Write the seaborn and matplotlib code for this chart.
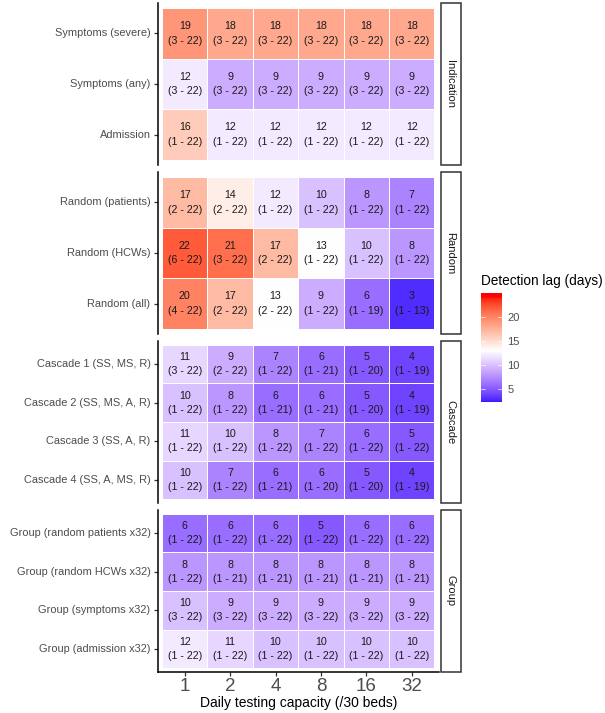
import numpy as np
import pandas as pd
import seaborn as sns
import matplotlib.pyplot as plt
import matplotlib.colors as mcolors
from matplotlib.patches import Rectangle

sns.set_style("white")
plt.rcParams["font.family"] = ["Liberation Sans", "DejaVu Sans"]

capacity = ["1", "2", "4", "8", "16", "32"]

facets = ["Indication", "Random", "Cascade", "Group"]

strategies = {
    "Indication": ["Symptoms (severe)", "Symptoms (any)", "Admission"],
    "Random": ["Random (patients)", "Random (HCWs)", "Random (all)"],
    "Cascade": ["Cascade 1 (SS, MS, R)", "Cascade 2 (SS, MS, A, R)",
                "Cascade 3 (SS, A, R)", "Cascade 4 (SS, A, MS, R)"],
    "Group": ["Group (random patients x32)", "Group (random HCWs x32)",
              "Group (symptoms x32)", "Group (admission x32)"],
}

lag_median = {
    "Indication": [[19, 18, 18, 18, 18, 18],
                   [12, 9, 9, 9, 9, 9],
                   [16, 12, 12, 12, 12, 12]],
    "Random": [[17, 14, 12, 10, 8, 7],
               [22, 21, 17, 13, 10, 8],
               [20, 17, 13, 9, 6, 3]],
    "Cascade": [[11, 9, 7, 6, 5, 4],
                [10, 8, 6, 6, 5, 4],
                [11, 10, 8, 7, 6, 5],
                [10, 7, 6, 6, 5, 4]],
    "Group": [[6, 6, 6, 5, 6, 6],
              [8, 8, 8, 8, 8, 8],
              [10, 9, 9, 9, 9, 9],
              [12, 11, 10, 10, 10, 10]],
}

lag_low = {
    "Indication": [[3, 3, 3, 3, 3, 3],
                   [3, 3, 3, 3, 3, 3],
                   [1, 1, 1, 1, 1, 1]],
    "Random": [[2, 2, 1, 1, 1, 1],
               [6, 3, 2, 1, 1, 1],
               [4, 2, 2, 1, 1, 1]],
    "Cascade": [[3, 2, 1, 1, 1, 1],
                [1, 1, 1, 1, 1, 1],
                [1, 1, 1, 1, 1, 1],
                [1, 1, 1, 1, 1, 1]],
    "Group": [[1, 1, 1, 1, 1, 1],
              [1, 1, 1, 1, 1, 1],
              [3, 3, 3, 3, 3, 3],
              [1, 1, 1, 1, 1, 1]],
}

lag_high = {
    "Indication": [[22, 22, 22, 22, 22, 22],
                   [22, 22, 22, 22, 22, 22],
                   [22, 22, 22, 22, 22, 22]],
    "Random": [[22, 22, 22, 22, 22, 22],
               [22, 22, 22, 22, 22, 22],
               [22, 22, 22, 22, 19, 13]],
    "Cascade": [[22, 22, 22, 21, 20, 19],
                [22, 22, 21, 21, 20, 19],
                [22, 22, 22, 22, 22, 22],
                [22, 22, 21, 20, 20, 19]],
    "Group": [[22, 22, 22, 22, 22, 22],
              [22, 21, 21, 21, 21, 21],
              [22, 22, 22, 22, 22, 22],
              [22, 22, 22, 22, 22, 22]],
}

legend_ticks = [5, 10, 15, 20]
legend_range = (2.4, 24.9)
midpoint = 13


# gradient2 style colours: blue - white - red, interpolated in Lab space
WHITE_PT = np.array([0.95047, 1.0, 1.08883])
M = np.array([[0.4124, 0.3576, 0.1805],
              [0.2126, 0.7152, 0.0722],
              [0.0193, 0.1192, 0.9505]])


def to_lab(c):
    rgb = np.array(mcolors.to_rgb(c))
    lin = np.where(rgb <= 0.04045, rgb / 12.92, ((rgb + 0.055) / 1.055) ** 2.4)
    xyz = M @ lin / WHITE_PT
    f = np.where(xyz > 0.008856, np.cbrt(xyz), 7.787 * xyz + 16 / 116)
    return np.array([116 * f[1] - 16, 500 * (f[0] - f[1]), 200 * (f[1] - f[2])])


def from_lab(lab):
    fy = (lab[0] + 16) / 116
    f = np.array([fy + lab[1] / 500, fy, fy - lab[2] / 200])
    xyz = np.where(f ** 3 > 0.008856, f ** 3, (f - 16 / 116) / 7.787) * WHITE_PT
    lin = np.linalg.solve(M, xyz)
    lin = np.clip(lin, 0, 1)
    rgb = np.where(lin <= 0.0031308, 12.92 * lin, 1.055 * lin ** (1 / 2.4) - 0.055)
    return np.clip(rgb, 0, 1)


lab_blue, lab_white, lab_red = to_lab("blue"), to_lab("white"), to_lab("red")
cols = []
for t in np.linspace(0, 1, 256):
    if t < 0.5:
        s = t / 0.5
        cols.append(from_lab(lab_blue + (lab_white - lab_blue) * s))
    else:
        s = (t - 0.5) / 0.5
        cols.append(from_lab(lab_white + (lab_red - lab_white) * s))
cmap = mcolors.ListedColormap(cols)
half = 11.2
norm = mcolors.Normalize(vmin=midpoint - half, vmax=midpoint + half)

W, H = 605, 713
fig = plt.figure(figsize=(W / 100, H / 100), dpi=100)


def box(x0, y0, x1, y1):
    return [x0 / W, 1 - y1 / H, (x1 - x0) / W, (y1 - y0) / H]


panel_tops = [3, 172, 341, 510]
panel_h = 162
px0, px1 = 157.5, 439
grey = "#4D4D4D"

for k, facet in enumerate(facets):
    y0 = panel_tops[k]
    ax = fig.add_axes(box(px0, y0, px1, y0 + panel_h))
    med = np.array(lag_median[facet])
    lo = np.array(lag_low[facet])
    hi = np.array(lag_high[facet])
    df = pd.DataFrame(med, index=strategies[facet], columns=capacity)
    labels = np.array([[f"{m}\n({a} - {b})" for m, a, b in zip(r1, r2, r3)]
                       for r1, r2, r3 in zip(med, lo, hi)])
    sns.heatmap(df, ax=ax, cmap=cmap, norm=norm, cbar=False,
                annot=labels, fmt="", linewidths=0.6, linecolor="white",
                annot_kws={"color": "#1A1A1A", "fontsize": 7.7,
                           "linespacing": 1.55})
    n = len(strategies[facet])
    ax.set_xlim(-0.1, 6.1)
    ax.set_ylim(n + 0.1, -0.1)
    ax.set_ylabel("")
    ax.set_xlabel("")
    for s in ["top", "right", "bottom"]:
        ax.spines[s].set_visible(False)
    ax.spines["left"].set_visible(True)
    ax.spines["left"].set_color("black")
    ax.spines["left"].set_linewidth(1.1)
    ax.tick_params(axis="y", left=True, length=3, width=0.9, color="#333333",
                   labelsize=7.9, labelcolor=grey, pad=2, rotation=0)
    if k == len(facets) - 1:
        ax.spines["bottom"].set_visible(True)
        ax.spines["bottom"].set_color("black")
        ax.spines["bottom"].set_linewidth(1.1)
        ax.tick_params(axis="x", bottom=True, length=3, width=0.9,
                       color="#333333", labelsize=13.5, labelcolor=grey,
                       pad=1, rotation=0)
        ax.set_xlabel("Daily testing capacity (/30 beds)", fontsize=10,
                      color="black", labelpad=1)
    else:
        ax.tick_params(axis="x", bottom=False, labelbottom=False)

    # facet strip on the right
    sax = fig.add_axes(box(440.5, y0, 460.5, y0 + panel_h))
    sax.set_xlim(0, 1)
    sax.set_ylim(0, 1)
    sax.axis("off")
    sax.add_patch(Rectangle((0, 0), 1, 1, transform=sax.transAxes,
                            facecolor="white", edgecolor="#333333",
                            linewidth=1.1, clip_on=False))
    sax.text(0.5, 0.5, facet, rotation=270, ha="center", va="center",
             fontsize=8, color="#1A1A1A", transform=sax.transAxes)

# colourbar legend
cax = fig.add_axes(box(481, 293, 502, 402))
grad = np.linspace(legend_range[0], legend_range[1], 300)[:, None]
cax.imshow(grad, aspect="auto", cmap=cmap, norm=norm, origin="lower",
           extent=[0, 1, legend_range[0], legend_range[1]])
cax.set_xlim(0, 1)
cax.set_ylim(*legend_range)
for s in cax.spines.values():
    s.set_visible(False)
cax.set_xticks([])
cax.yaxis.tick_right()
cax.set_yticks(legend_ticks)
cax.set_yticklabels([str(t) for t in legend_ticks])
cax.tick_params(axis="y", length=0, pad=4, labelsize=8, labelcolor=grey)
for t in legend_ticks:
    cax.plot([0, 0.2], [t, t], color="white", lw=0.6, alpha=0.8)
    cax.plot([0.8, 1], [t, t], color="white", lw=0.6, alpha=0.8)
fig.text(481 / W, 1 - 281 / H, "Detection lag (days)", fontsize=9.8,
         color="black", ha="left", va="center")

fig.savefig("out.png", dpi=100)
